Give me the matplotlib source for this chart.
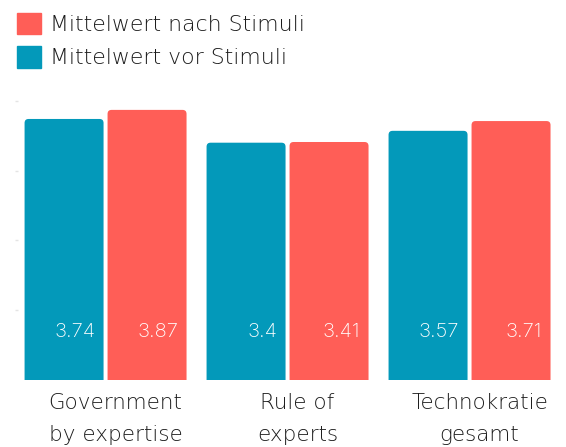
import matplotlib
matplotlib.use("Agg")
import matplotlib.pyplot as plt
import matplotlib.patches as mpatches
import matplotlib.transforms as mtransforms
from matplotlib.patches import FancyBboxPatch
import numpy as np

categories = ["Government\nby expertise", "Rule of\nexperts", "Technokratie\ngesamt"]
vor_values = [3.74, 3.4, 3.57]
nach_values = [3.87, 3.41, 3.71]
labels = ["Mittelwert nach Stimuli", "Mittelwert vor Stimuli"]

teal = "#0399BA"
coral = "#FF5E57"
text_col = "#1c1c1c"

plt.rcParams.update({"font.family": ["DejaVu Sans"]})

W, H = 566, 447
fig = plt.figure(figsize=(W / 100, H / 100), dpi=100)
ax = fig.add_axes([0, (H - 380) / H, 1, 290 / H])
ax.set_xlim(-0.58, 2.53)
ax.set_ylim(0, 4.155)

x = np.arange(len(categories))
width = 0.434
off = 0.228

bars_vor = ax.bar(x - off, vor_values, width, color=teal)
bars_nach = ax.bar(x + off, nach_values, width, color=coral)

# swap plain rectangles for ones with rounded tops
fig.canvas.draw()
bb = ax.get_window_extent()
xu = (ax.get_xlim()[1] - ax.get_xlim()[0]) / bb.width
yu = (ax.get_ylim()[1] - ax.get_ylim()[0]) / bb.height
aspect = yu / xu
r = 4 * xu
for container in (bars_vor, bars_nach):
    for rect in container:
        rect.set_visible(False)
        x0, w, h = rect.get_x(), rect.get_width(), rect.get_height()
        p = FancyBboxPatch((x0, -0.2), w, h + 0.2,
                           boxstyle=f"round,pad=0,rounding_size={r}",
                           mutation_aspect=aspect,
                           fc=rect.get_facecolor(), ec="none")
        ax.add_patch(p)

for container, vals in ((bars_vor, vor_values), (bars_nach, nach_values)):
    for rect, v in zip(container, vals):
        ax.annotate(f"{v:g}", (rect.get_x() + rect.get_width(), 0.69),
                    xytext=(-6, 0), textcoords="offset points",
                    ha="right", va="center", color="white", fontsize=14.5,
                    fontweight="light", family=["Inter", "DejaVu Sans"])

ax.set_xticks(x, categories)
ax.tick_params(axis="x", length=0, pad=9.5, labelsize=15.5, labelcolor=text_col)
shift = mtransforms.ScaledTranslation(10 / 100, 0, fig.dpi_scale_trans)
for t in ax.get_xticklabels():
    t.set_linespacing(1.75)
    t.set_fontweight("light")
    t.set_transform(t.get_transform() + shift)

ax.set_yticks([1, 2, 3, 4])
ax.spines["left"].set_position(("data", -0.5))
ax.tick_params(axis="y", direction="in", length=2, width=1, color="#e4e4e4",
               labelleft=False)
for s in ax.spines.values():
    s.set_visible(False)

handles = [mpatches.Patch(color=coral), mpatches.Patch(color=teal)]
leg = fig.legend(handles, labels, loc="upper left", bbox_to_anchor=(7 / W, 1 - 3 / H),
                 frameon=False, fontsize=15.8, handlelength=1.1, handleheight=1.1,
                 handletextpad=0.42, labelspacing=0.53, borderaxespad=0,
                 borderpad=0.45, labelcolor=text_col)
for t in leg.get_texts():
    t.set_fontweight("light")

fig.savefig("out.png", dpi=100)
